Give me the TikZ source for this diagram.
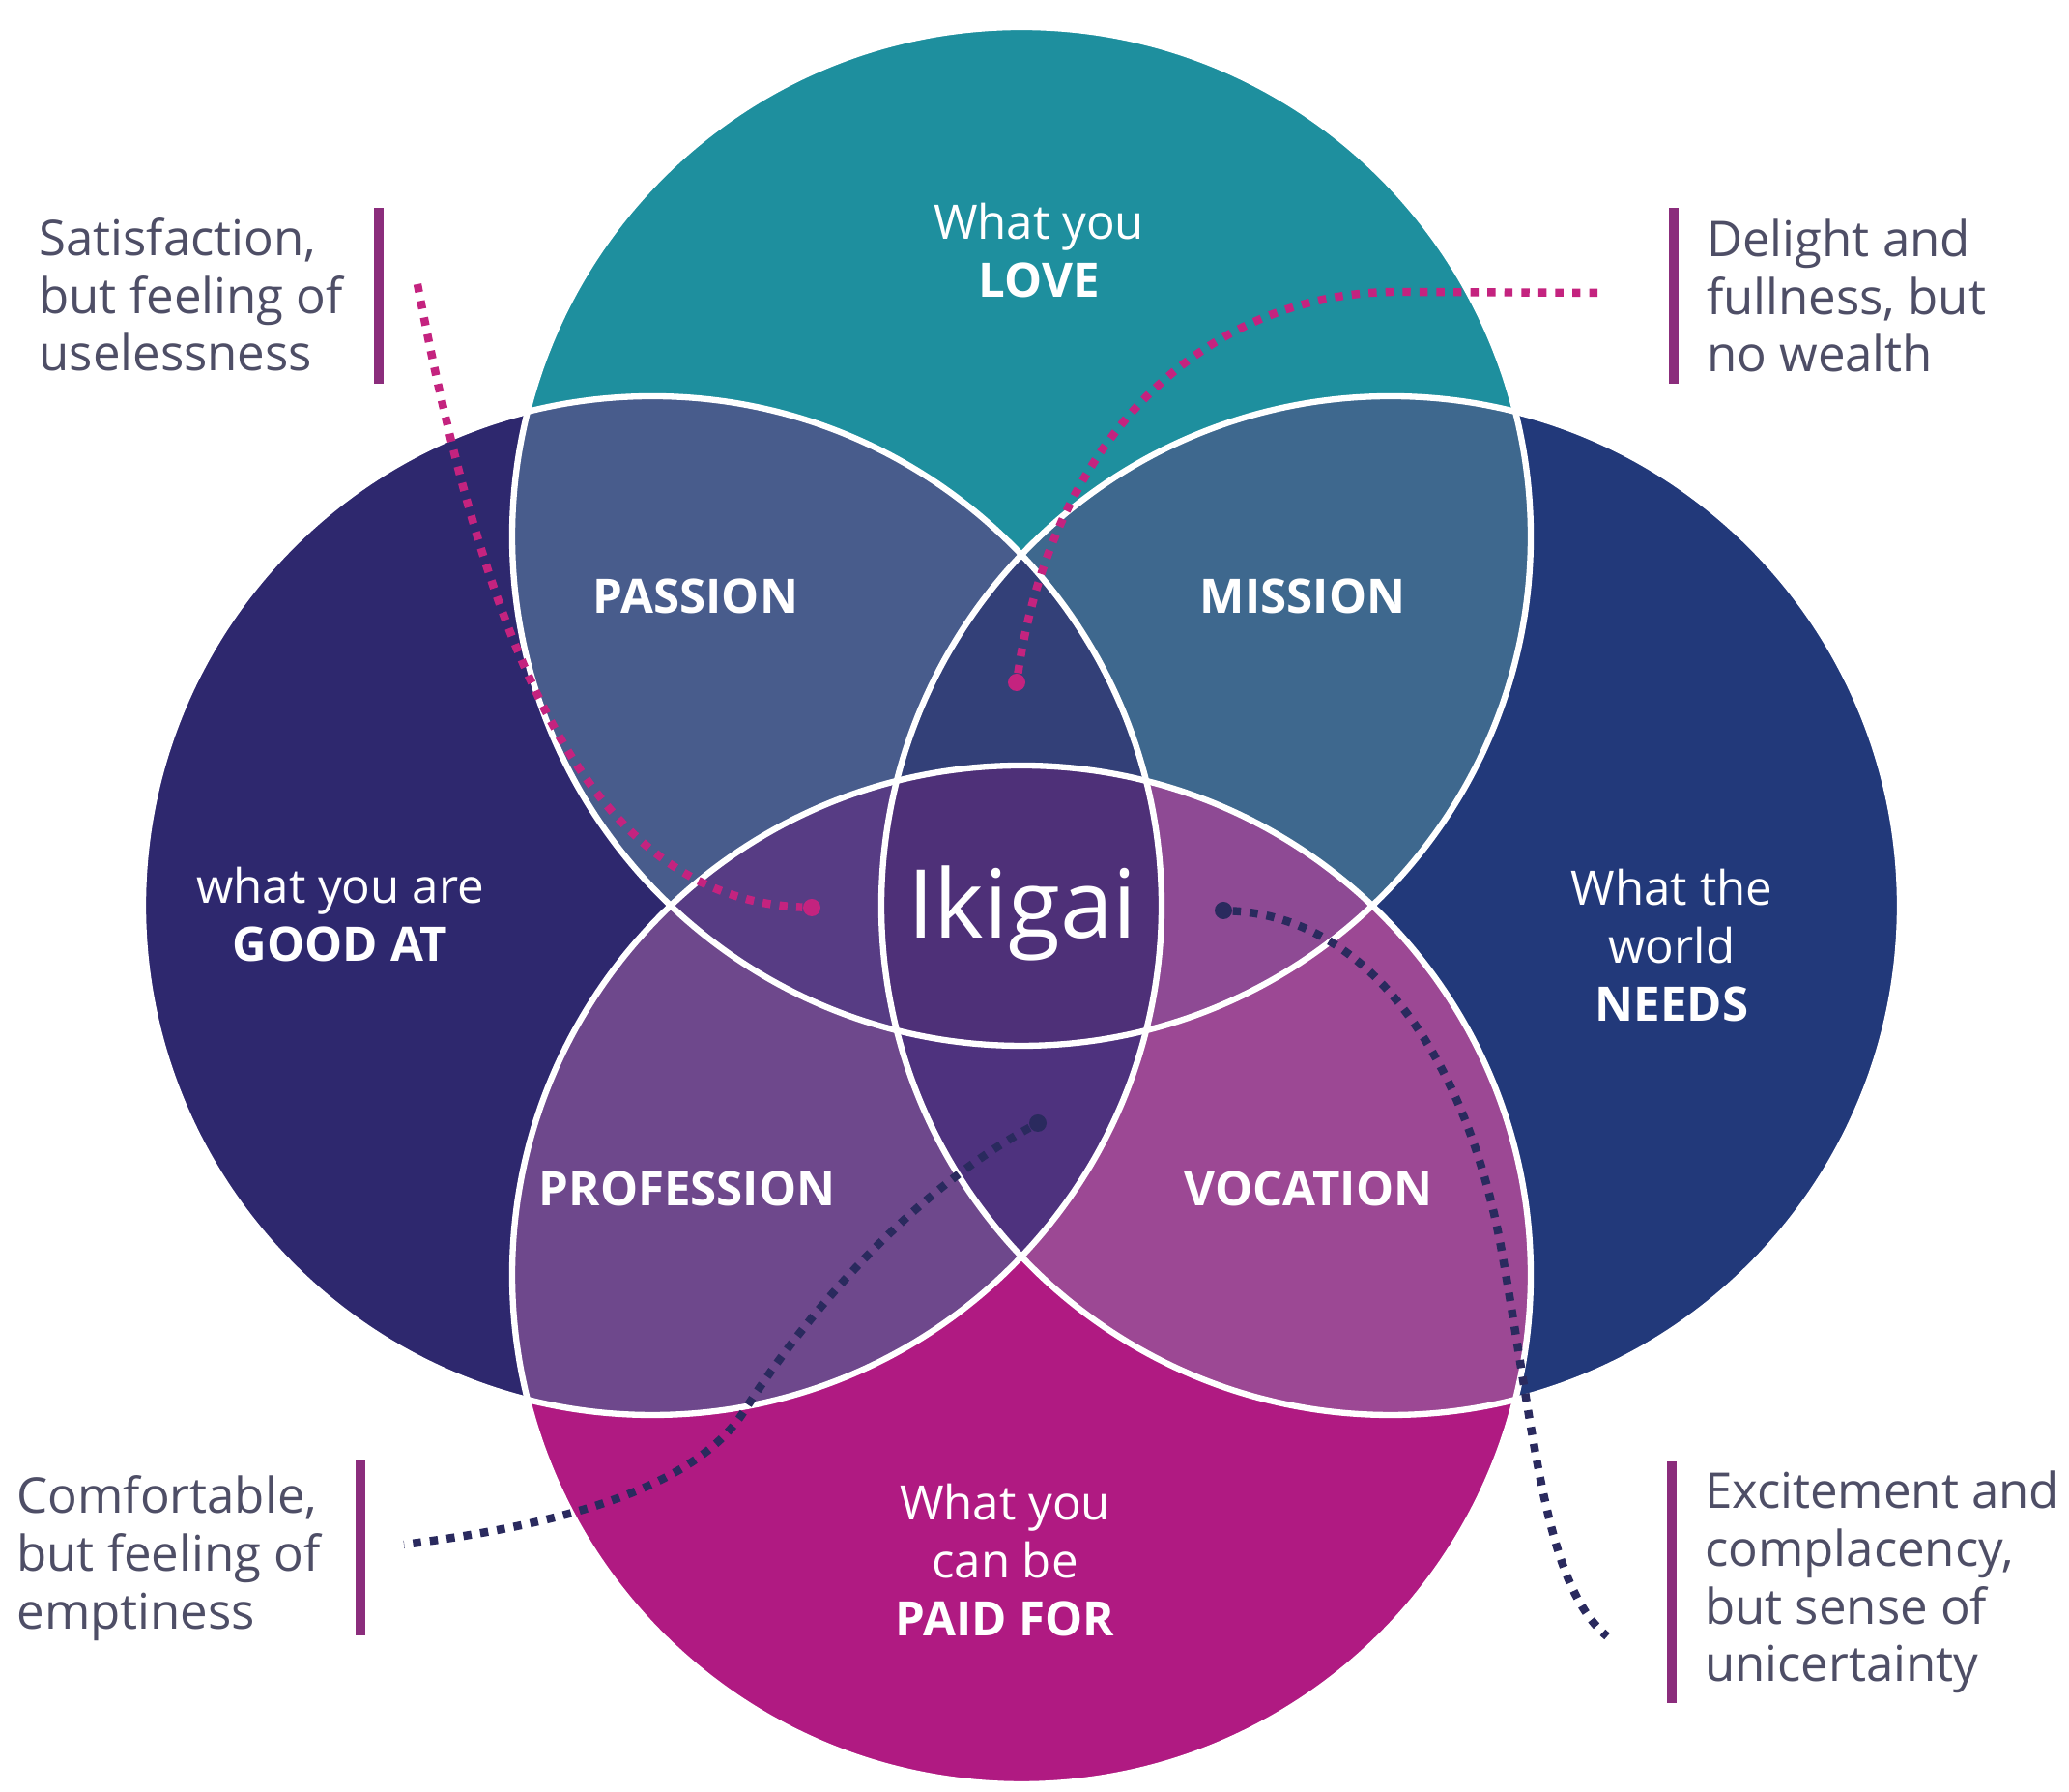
\documentclass[tikz,border=0pt]{standalone}
\usepackage{fontspec}
\setmainfont{Open Sans}
\usetikzlibrary{positioning}

\definecolor{loveteal}{HTML}{1E8F9E}
\definecolor{goodindigo}{HTML}{2E286E}
\definecolor{needsnavy}{HTML}{22397A}
\definecolor{paidmagenta}{HTML}{B01A82}
\definecolor{passioncol}{HTML}{485C8C}
\definecolor{missioncol}{HTML}{3E688E}
\definecolor{professioncol}{HTML}{6E488C}
\definecolor{vocationcol}{HTML}{9C4894}
\definecolor{toplens}{HTML}{334078}
\definecolor{bottomlens}{HTML}{4E327E}
\definecolor{leftlens}{HTML}{573C84}
\definecolor{rightlens}{HTML}{8E4A94}
\definecolor{ikigaicol}{HTML}{4E3078}
\definecolor{notegray}{HTML}{4E4E66}
\definecolor{barpurple}{HTML}{8B2D7C}
\definecolor{dotpink}{HTML}{C4237F}
\definecolor{dotdark}{HTML}{2A2A5E}

\tikzset{
	circlabel/.style={text=white, align=center, font=\fontsize{14}{17}\selectfont},
	region/.style={text=white, font=\fontsize{14}{17}\selectfont\bfseries},
	note/.style={text=notegray, align=left, anchor=west, font=\fontsize{14.5}{17}\selectfont},
	bar/.style={fill=barpurple, inner sep=0pt, minimum width=0.1cm},
	dotend/.style={circle, inner sep=0pt, minimum size=0.18cm},
	dotline/.style={line width=2.4pt, dash pattern=on 2.4pt off 2.6pt},
	outline/.style={draw=white, line width=1.8pt},
}
\def\rad{5.27}

\begin{document}
\begin{tikzpicture}
	
	\fill[white] (0,0) rectangle (21.41,18.54);
	\useasboundingbox (0,0) rectangle (21.41,18.54);
	
	\coordinate (love) at (10.57,12.99);
	\coordinate (good) at (6.75,9.17);
	\coordinate (needs) at (14.39,9.17);
	\coordinate (paid) at (10.57,5.35);
	
	\fill[loveteal] (love) circle (\rad);
	\fill[goodindigo] (good) circle (\rad);
	\fill[needsnavy] (needs) circle (\rad);
	\fill[paidmagenta] (paid) circle (\rad);
	
	% two circles
	\begin{scope}
		\clip (love) circle (\rad);
		\fill[passioncol] (good) circle (\rad);
		\fill[missioncol] (needs) circle (\rad);
	\end{scope}
	\begin{scope}
		\clip (paid) circle (\rad);
		\fill[professioncol] (good) circle (\rad);
		\fill[vocationcol] (needs) circle (\rad);
	\end{scope}
	
	% three and four circles
	\begin{scope}
		\clip (good) circle (\rad);
		\clip (needs) circle (\rad);
		\fill[toplens] (love) circle (\rad);
		\fill[bottomlens] (paid) circle (\rad);
	\end{scope}
	\begin{scope}
		\clip (love) circle (\rad);
		\clip (paid) circle (\rad);
		\fill[leftlens] (good) circle (\rad);
		\fill[rightlens] (needs) circle (\rad);
		\clip (good) circle (\rad);
		\fill[ikigaicol] (needs) circle (\rad);
	\end{scope}
	
	\draw[outline] (love) circle (\rad);
	\draw[outline] (good) circle (\rad);
	\draw[outline] (needs) circle (\rad);
	\draw[outline] (paid) circle (\rad);
	
	\node[circlabel] (lovetxt) at (10.75,15.95) {What you\\\textbf{LOVE}};
	\node[circlabel] (goodtxt) at (3.52,9.08) {what you are\\\textbf{GOOD AT}};
	\node[circlabel] (needstxt) at (17.30,8.76) {What the\\world\\\textbf{NEEDS}};
	\node[circlabel] (paidtxt) at (10.40,2.40) {What you\\can be\\\textbf{PAID FOR}};
	
	\node[region] (passion) at (7.20,12.37) {PASSION};
	\node[region] (mission) at (13.48,12.37) {MISSION};
	\node[region] (profession) at (7.11,6.24) {PROFESSION};
	\node[region] (vocation) at (13.54,6.24) {VOCATION};
	
	\node[text=white, font=\fontsize{28}{30}\selectfont] (ikigai) at (10.58,9.09) {Ikigai};
	
	% side notes
	\node[note] (usenote) at (0.28,15.49) {Satisfaction,\\but feeling of\\uselessness};
	\node[bar, minimum height=1.82cm] (usebar) at (3.92,15.48) {};
	
	\node[bar, minimum height=1.82cm] (wealthbar) at (17.32,15.48) {};
	\node[note, right=0.16cm of wealthbar] (wealthnote) {Delight and\\fullness, but\\no wealth};
	
	\node[note] (emptynote) at (0.05,2.42) {Comfortable,\\but feeling of\\emptiness};
	\node[bar, minimum height=1.81cm] (emptybar) at (3.73,2.52) {};
	
	\node[bar, minimum height=2.50cm] (uncertbar) at (17.30,2.17) {};
	\node[note, right=0.16cm of uncertbar] (uncertnote) {Excitement and\\complacency,\\but sense of\\unicertainty};
	
	% dotted pointers
	\node[dotend, fill=dotpink] (usedot) at (8.40,9.15) {};
	\node[dotend, fill=dotpink] (wealthdot) at (10.52,11.48) {};
	\node[dotend, fill=dotdark] (uncertdot) at (12.66,9.12) {};
	\node[dotend, fill=dotdark] (emptydot) at (10.74,6.92) {};
	\coordinate (usestart) at (4.32,15.60);
	\coordinate (wealthend) at (16.60,15.51);
	\coordinate (uncertend) at (16.63,1.61);
	\coordinate (emptyend) at (4.18,2.56);
	
	\begin{scope}[dotline]
		\draw[dotpink] (usestart) .. controls (5.00,12.04) and (6.00,9.24) .. (usedot);
		\draw[dotpink] (wealthdot) .. controls (10.90,14.04) and (12.50,15.52) .. (14.46,15.52) -- (wealthend);
		\draw[dotdark] (uncertdot) .. controls (14.20,9.04) and (15.20,7.54) .. (15.55,5.54) .. controls (15.90,3.54) and (16.00,2.14) .. (uncertend);
		\draw[dotdark] (emptydot) .. controls (9.50,6.24) and (8.40,5.04) .. (7.70,3.94) .. controls (7.15,3.08) and (5.60,2.74) .. (emptyend);
	\end{scope}
\end{tikzpicture}
\end{document}
